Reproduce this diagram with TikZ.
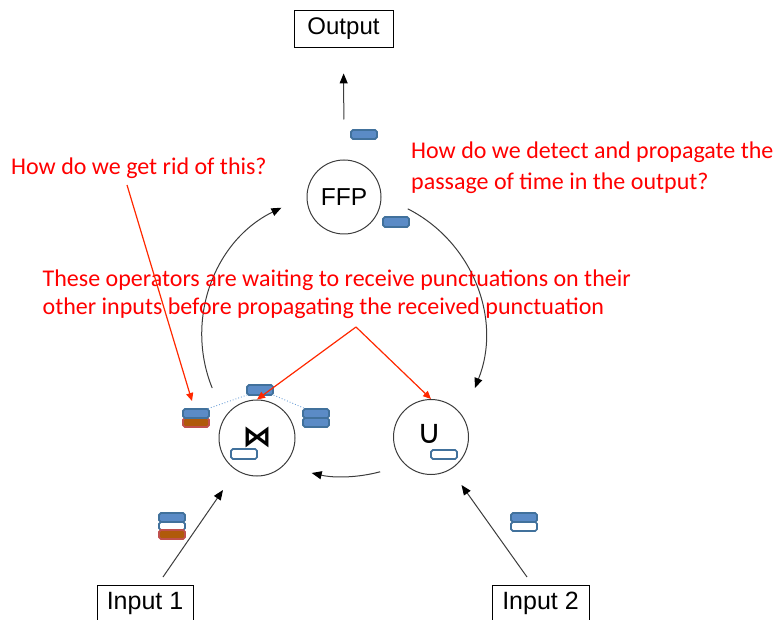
\documentclass[tikz,border=0pt]{standalone}
\usepackage{fontspec}
\setmainfont{Liberation Sans}
\newfontfamily\calib{Carlito}
\newfontfamily\djv{DejaVu Sans}
\usetikzlibrary{arrows.meta}
\definecolor{rd}{RGB}{255,0,0}
\definecolor{rarrc}{RGB}{255,40,0}
\definecolor{bfill}{RGB}{91,139,198}
\definecolor{bdraw}{RGB}{65,113,156}
\definecolor{brfill}{RGB}{176,90,10}
\definecolor{brdraw}{RGB}{192,80,77}
\definecolor{dotb}{RGB}{110,160,215}
\definecolor{ln}{RGB}{60,60,60}
\begin{document}
\begin{tikzpicture}[x=1pt,y=-1pt,
  box/.style={draw, line width=0.9pt, minimum width=97pt, minimum height=37pt, inner sep=0pt, font=\fontsize{24}{24}\selectfont},
  op/.style={circle, draw=ln, line width=1pt, inner sep=0pt},
  rtext/.style={text=rd, anchor=base west, inner sep=0pt, font=\calib\fontsize{24}{24}\selectfont},
  arr/.style={draw=ln, line width=1pt, -{Triangle[length=10pt,width=8pt,color=black]}},
  rarr/.style={draw=rarrc, line width=1.2pt, -{Triangle[length=8pt,width=7pt]}},
  bbar/.style={draw=bdraw, fill=bfill, line width=1.7pt, rounded corners=1.8pt},
  wbar/.style={draw=bdraw, fill=white, line width=1.7pt, rounded corners=1.8pt},
  brbar/.style={draw=brdraw, fill=brfill, line width=1.7pt, rounded corners=1.8pt},
  dotline/.style={draw=dotb, dotted, line width=0.9pt}
]
\useasboundingbox (0,0) rectangle (777,620);

% boxes
\node[box, minimum width=99pt] (out) at (343.5,28.5) {Output};
\node[box, font=\fontsize{25}{25}\selectfont, minimum width=96pt] (in1) at (145,603.5) {Input 1};
\node[box, font=\fontsize{25}{25}\selectfont, minimum width=97pt] (in2) at (540.5,603.5) {Input 2};

% operators
\node[op, minimum size=74pt, font=\fontsize{24.5}{24.5}\selectfont] (ffp) at (344,197) {FFP};
\node[op, minimum size=76pt] (join) at (257,438) {};
\node[op, minimum size=75pt] (union) at (431,437) {};
\node[font=\djv\bfseries\fontsize{29}{29}\selectfont, inner sep=0pt] (bt) at (257,437.5) {⋈};
\node[font=\djv\fontsize{33}{33}\selectfont, inner sep=0pt] (cup) at (430,434) {∪};

% output arrow
\draw[arr, shorten <=40pt, shorten >=26pt] (ffp.north) -- (out.south);

% big circle arcs
\coordinate (C) at (343.5,335);
\draw[arr] ([shift={(-202:141.6)}]C) arc[start angle=-202, end angle=-116, radius=141.6];
\draw[arr] ([shift={(-63:141.6)}]C) arc[start angle=-63, end angle=22, radius=141.6];
\draw[arr] ([shift={(75:141.6)}]C) arc[start angle=75, end angle=103, radius=141.6];

% input arrows
\coordinate (a1s) at (163,577);
\coordinate (a1e) at (223,490);
\coordinate (a2s) at (527,577);
\coordinate (a2e) at (461.5,485);
\draw[arr] (a1s) -- (a1e);
\draw[arr] (a2s) -- (a2e);

% dotted lines
\draw[dotline] (250,394) -- (207,409);
\draw[dotline] (271,394) -- (306,409);

% bars
\path[bbar] (351,130) rectangle (377,139);
\path[bbar] (383,217) rectangle (409,227);
\path[bbar] (247,385) rectangle (273,395);
\path[brbar] (183,418) rectangle (209,427);
\path[bbar] (183,409) rectangle (209,418);
\path[bbar] (303,409) rectangle (329,418);
\path[bbar] (303,418) rectangle (329,427);
\path[wbar] (231,449) rectangle (257,459);
\path[wbar] (431,450) rectangle (457,459);
\path[bbar] (159,513) rectangle (185,522);
\path[wbar] (159,522) rectangle (185,530);
\path[brbar] (159,530) rectangle (185,539);
\path[bbar] (511,513) rectangle (537,522);
\path[wbar] (511,522) rectangle (537,531);

% red texts
\node[rtext] (t1) at (11,175) {How do we get rid of this?};
\node[rtext] (t2a) at (411,159) {How do we detect and propagate the};
\node[rtext] (t2b) at (411,190) {passage of time in the output?};
\node[rtext] (t3a) at (42.5,287) {These operators are waiting to receive punctuations on their};
\node[rtext] (t3b) at (42.5,315) {other inputs before propagating the received punctuation};

% red arrows
\coordinate (r0) at (127,185);
\coordinate (r0e) at (192,401);
\coordinate (apex) at (356,327);
\draw[rarr] (r0) -- (r0e);
\draw[rarr] (apex) -- (join.north);
\draw[rarr] (apex) -- (union.north);
\end{tikzpicture}
\end{document}
